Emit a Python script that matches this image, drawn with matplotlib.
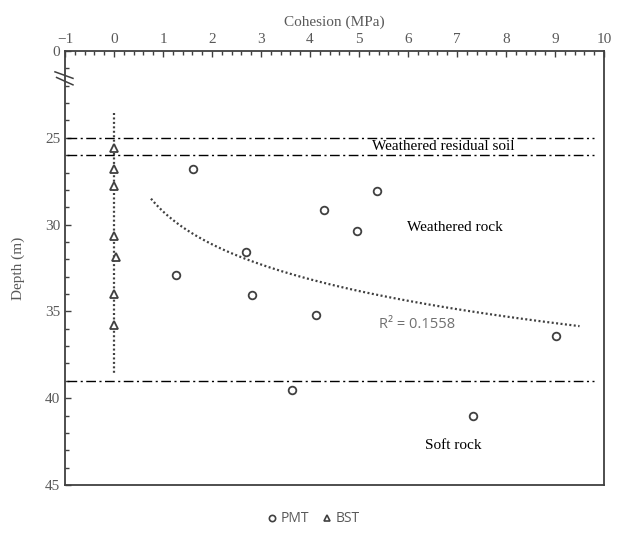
import matplotlib
matplotlib.use('Agg')
import matplotlib.pyplot as plt
from matplotlib.lines import Line2D
from matplotlib.ticker import MultipleLocator, FixedLocator
import numpy as np

# PMT results (cohesion MPa, depth m)
pmt_cohesion = [1.61, 1.27, 2.70, 2.81, 4.29, 5.36, 4.95, 4.13, 3.63, 9.02, 7.32]
pmt_depth = [26.8, 32.9, 31.6, 34.06, 29.18, 28.06, 30.38, 35.23, 39.5, 36.44, 41.0]

# BST results
bst_cohesion = [0.0, 0.0, 0.0, 0.0, 0.05, 0.0, 0.0]
bst_depth = [25.6, 26.8, 27.8, 30.65, 31.85, 34.0, 35.8]
bst_trend_depth = [23.6, 38.6]

# layer boundaries and labels
boundaries = [25.0, 26.0, 39.0]
layer_names = ['Weathered residual soil', 'Weathered rock', 'Soft rock']
layer_pos = [(6.71, 25.52), (6.96, 30.17), (6.92, 42.74)]

xtick_vals = list(range(-1, 11))
xtick_text = ['\u22121'] + [str(v) for v in range(0, 11)]
ytick_vals = [20, 25, 30, 35, 40, 45]
ytick_text = ['0', '25', '30', '35', '40', '45']
r2_text = 'R² = 0.1558'

serif = 'Liberation Serif'
gray = '#595959'
dark = '#404040'

fig = plt.figure(figsize=(6.22, 5.33), dpi=100)
ax = fig.add_axes([0.1045, 0.0901, 0.8666, 0.8142])

# layer lines
for d in boundaries:
    ax.plot([-0.95, 9.8], [d, d], color='black', lw=1.0, dashes=(7, 2.5, 1.5, 2.5))

# power trendline of PMT, fitted as excel does
b, lna = np.polyfit(np.log(pmt_cohesion), np.log(pmt_depth), 1)
xt = np.linspace(0.755, 9.5, 100)
ax.plot(xt, np.exp(lna) * xt ** b, color=dark, lw=1.6, dashes=(0.9, 1.1))

# BST trendline (near vertical)
xb = np.mean(bst_cohesion)
ax.plot([xb, xb], bst_trend_depth, color=dark, lw=1.6, dashes=(0.9, 1.1))

ax.plot(pmt_cohesion, pmt_depth, 'o', ms=5.5, mfc='white', mec=dark, mew=1.3)
ax.plot(bst_cohesion, bst_depth, '^', ms=5.5, mfc='white', mec=dark, mew=1.3)

for name, (x, y) in zip(layer_names, layer_pos):
    ax.text(x, y, name, ha='center', va='center', fontsize=11,
            family=serif, color='black')

ax.text(6.19, 35.76, r2_text, ha='center', va='center', fontsize=10.5,
        family='Open Sans', color='#707070')

ax.set_xlim(-1, 10)
ax.set_ylim(45, 20)

ax.xaxis.tick_top()
ax.xaxis.set_label_position('top')
ax.xaxis.set_major_locator(FixedLocator(xtick_vals))
ax.xaxis.set_minor_locator(MultipleLocator(0.2))
ax.set_xticklabels(xtick_text)
ax.yaxis.set_major_locator(FixedLocator(ytick_vals))
ax.yaxis.set_minor_locator(FixedLocator(list(range(21, 45))))
ax.set_yticklabels(ytick_text)

ax.tick_params(which='both', direction='in', colors=dark, labelcolor=gray,
               labelsize=11, width=1)
ax.tick_params(which='major', length=4)
ax.tick_params(which='minor', length=3)
for lab in ax.get_xticklabels() + ax.get_yticklabels():
    lab.set_family(serif)

ax.set_xlabel('Cohesion (MPa)', fontsize=11, family=serif, color=gray, labelpad=5)
ax.set_ylabel('Depth (m)', fontsize=11, family=serif, color=gray, labelpad=14)

for s in ax.spines.values():
    s.set_color(dark)
    s.set_linewidth(1.3)

# axis break marks
ax.plot([-0.0186, 0.0148], [0.952, 0.937], transform=ax.transAxes,
        color=dark, lw=1.1, clip_on=False)
ax.plot([-0.0156, 0.0148], [0.939, 0.922], transform=ax.transAxes,
        color=dark, lw=1.1, clip_on=False)

handles = [Line2D([], [], ls='none', marker='o', ms=4.5, mfc='white', mec=dark, mew=1.2),
           Line2D([], [], ls='none', marker='^', ms=4.5, mfc='white', mec=dark, mew=1.2)]
leg = fig.legend(handles, ['PMT', 'BST'], loc='center', ncol=2,
                 bbox_to_anchor=(313.5 / 622, 1 - 519 / 533), frameon=False,
                 handlelength=0.6, handletextpad=0.3, columnspacing=1.0,
                 prop={'family': 'Open Sans', 'size': 10})
for t in leg.get_texts():
    t.set_color(gray)

fig.savefig('out.png', dpi=100)
